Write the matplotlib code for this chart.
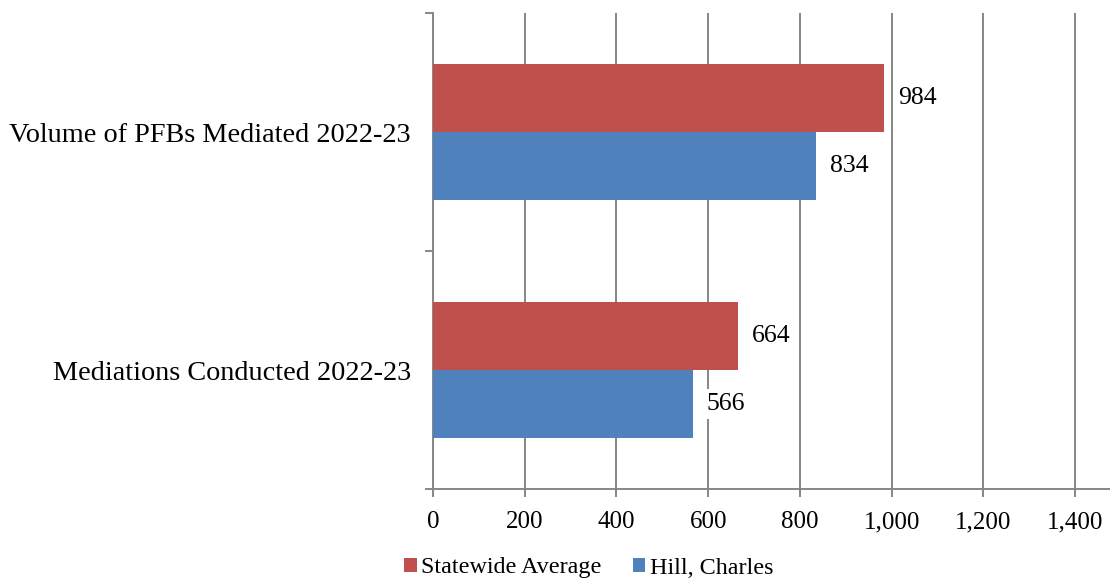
import matplotlib
matplotlib.use("Agg")
import matplotlib.pyplot as plt
import numpy as np

categories = ["Mediations Conducted 2022-23", "Volume of PFBs Mediated 2022-23"]
statewide_average = [664, 984]
hill_charles = [566, 834]
series_names = ["Statewide Average", "Hill, Charles"]
x_ticks = [0, 200, 400, 600, 800, 1000, 1200, 1400]

RED = "#C0504D"
BLUE = "#4F81BD"
GRID = "#868686"

plt.rcParams["font.family"] = ["Liberation Serif", "DejaVu Serif"]

fig = plt.figure(figsize=(11.10, 5.86), dpi=100)
ax = fig.add_axes([433 / 1110, 1 - 489 / 586, 677 / 1110, 476 / 586])

y = np.arange(len(categories))
h = 0.286
bars_red = ax.barh(y + h / 2, statewide_average, height=h, color=RED,
                   label=series_names[0], zorder=3)
bars_blue = ax.barh(y - h / 2, hill_charles, height=h, color=BLUE,
                    label=series_names[1], zorder=3)

for bars, vals in ((bars_red, statewide_average), (bars_blue, hill_charles)):
    for b, v in zip(bars, vals):
        ax.annotate(f"{v:,}", (v, b.get_y() + b.get_height() / 2),
                    xytext=(14, 0), textcoords="offset pixels",
                    ha="left", va="center", fontsize=18.5, zorder=4,
                    bbox=dict(boxstyle="square,pad=0.15", fc="white", ec="none"))

ax.set_xlim(0, 1476)
ax.set_ylim(-0.5, 1.5)
ax.set_xticks(x_ticks)
ax.set_xticklabels([f"{t:,}" for t in x_ticks], fontsize=18)
ax.grid(axis="x", color=GRID, linewidth=1.4, zorder=0)

ax.set_yticks([-0.5, 0.5, 1.5])
ax.set_yticklabels([])
ax.set_yticks(y, minor=True)
ax.set_yticklabels(categories, minor=True, fontsize=20.3)
ax.tick_params(axis="y", which="minor", length=0, pad=16)
ax.tick_params(axis="y", which="major", length=6, color=GRID, width=1.4)
ax.tick_params(axis="x", length=6, color=GRID, width=1.4, pad=10)

for side in ("top", "right"):
    ax.spines[side].set_visible(False)
for side in ("left", "bottom"):
    ax.spines[side].set_color(GRID)
    ax.spines[side].set_linewidth(1.4)

fig.legend(handles=[bars_red, bars_blue], labels=series_names,
           loc="center", bbox_to_anchor=(589 / 1110, 1 - 568 / 586),
           ncol=2, frameon=False, fontsize=17.4, handlelength=0.5,
           handleheight=0.5, handletextpad=0.2, columnspacing=1.3,
           borderpad=0.2)

fig.savefig("out.png", dpi=100)
